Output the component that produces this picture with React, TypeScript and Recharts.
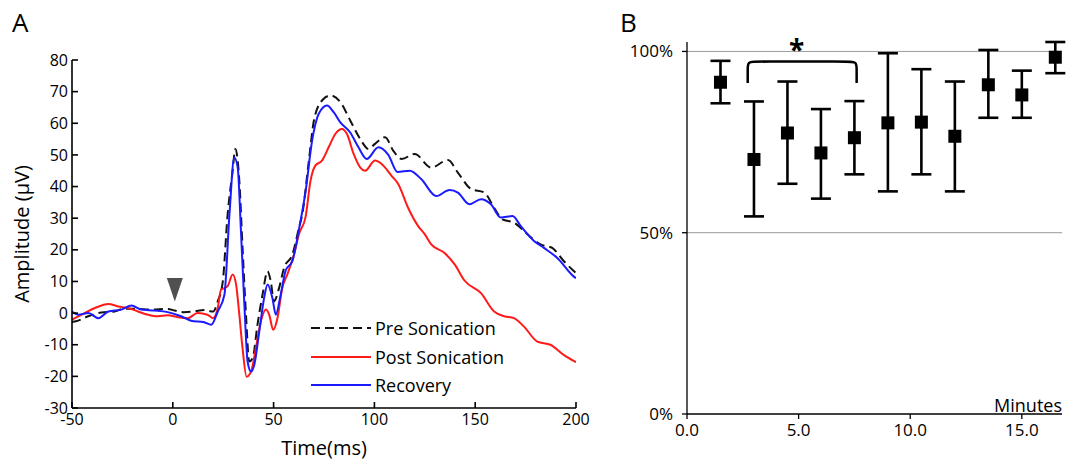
import React from 'react';
import {
  LineChart, Line, XAxis, YAxis, Label, Legend, ReferenceDot, ReferenceLine,
  ComposedChart, Scatter, ErrorBar,
} from 'recharts';

const FONT = '"Open Sans", "DejaVu Sans", sans-serif';

// ---------- Panel A: evoked potentials ----------
const preT = [-50,-48,-42,-35.5,-29,-24,-19,-11,-2.5,1,5.5,10.5,15.5,20,22.3,24.8,27.2,29.7,31,33,34.6,36.3,37.9,39.6,42,44.5,47,48.6,50.2,52.7,55.2,59.3,62.6,64.2,67.5,70,74,78.2,83.1,88,93,97,100.3,105.3,109.4,113.5,120,128.2,136.5,141.4,148,154.5,159.4,163.5,169.2,175.9,182.4,188.2,194,200];
const preV = [-2.8,-2.6,-1.0,0.2,0.5,1.4,1.4,1.1,1.3,0.8,0.3,0.5,1.0,0.5,3.7,10,31.2,45,51.9,41.8,20.6,-0.5,-15.3,-14.3,-3.7,5.8,13.2,10,3.7,7.9,14.3,18.5,27,31.2,48.2,60.9,67.2,68.8,66.7,60.9,55,51.9,53.5,55.6,51.3,48.7,50.3,46,48.4,44.4,39.2,38.1,33.3,29.6,28.6,24.9,21.7,20.6,16.4,12.6];

const postT = [-50,-45.2,-38.6,-32,-27.1,-22.2,-17.2,-12.3,-7.4,-2.5,2.5,7.4,12.3,17.2,19.9,22.3,23.9,25.6,27.2,29.7,31.4,33,34.6,36.6,38.8,41.2,43.7,46.2,47.8,49.8,51.9,54.3,56.8,60.1,62.6,65.9,68.3,70.7,74,77.3,80.6,83.9,86.4,89.7,93,95.4,100.3,103.6,108.5,111.8,116.7,121.7,125,128.2,134.8,139.8,144.7,152.9,159.4,164.4,169.2,174.1,180.8,187.3,193.9,200];
const postV = [-2.1,-0.5,1.6,2.9,2.1,1.6,0.5,-0.5,-1.0,-0.7,-1.3,-1.6,0,-0.5,-1.6,1.6,7.4,7.9,8.5,12.2,9,-0.5,-11.1,-20.1,-18.5,-11.1,-2.6,1.1,-0.5,-5.3,-1.6,7.9,12.2,18.5,25,30.5,41.8,46.6,48.2,52.4,56.6,58.2,56.6,50.3,46,45,48.2,47.1,43.4,40.8,33.3,27.5,24.9,21.7,19,15.4,10.3,6.3,0.5,-1.0,-1.6,-4.2,-9.0,-10,-13.2,-15.5];

const recT = [-50,-46.8,-41.9,-36.9,-32,-25.5,-20.5,-15.6,-9,-2.5,4.1,9,15.6,19,22.3,25.6,28.1,30.5,32.2,33.8,35.5,37.1,38.8,40.4,42.9,45.3,47,49.4,51.1,53.5,56,59.3,62.6,65.9,69.1,72.4,76.5,79.8,83.1,88,92.1,96.2,102,106.9,111.5,117.6,123.3,130.7,137.3,141.4,147.1,152.9,157.8,162.7,168.5,172.6,179.2,184.1,190.6,198.8,200];
const recV = [0.5,-0.5,0,-1.6,0.5,1.1,2.4,1.1,0.8,0.3,-1,-2.4,-2.9,-3.7,0.5,5.8,31.2,49.2,46,26,2.7,-15.3,-18.5,-16.4,-5.8,4.8,9,4.8,-0.5,5.8,13.5,16.4,26.5,38.6,54.5,63,65.6,63.5,60.3,57.1,52.4,48.7,52.4,50,44.6,45,42.3,37,38.9,38.1,34.4,36,34.4,30.2,30.7,27.5,22.8,20.6,17.5,11.6,11];

const xTicksA = [-50, 0, 50, 100, 150, 200];
const yTicksA = [-30, -20, -10, 0, 10, 20, 30, 40, 50, 60, 70, 80];
const stimulusTime = 1;
const stimulusLevel = 7.4;

const seriesNames = ['Pre Sonication', 'Post Sonication', 'Recovery'];
const seriesColors = ['#111111', '#ff1a1a', '#1a1aff'];
const seriesDash = ['9 5', undefined, undefined];

// ---------- Panel B: normalized amplitude ----------
const minutes = [1.5, 3, 4.5, 6, 7.5, 9, 10.5, 12, 13.5, 15, 16.5];
const meanPct = [91.5, 70.2, 77.5, 72.0, 76.2, 80.3, 80.5, 76.6, 90.8, 88.0, 98.4];
const upperPct = [97.4, 86.2, 91.7, 84.1, 86.3, 99.5, 95.1, 91.7, 100.4, 94.7, 102.6];
const lowerPct = [85.7, 54.5, 63.5, 59.4, 66.1, 61.4, 66.1, 61.4, 81.7, 81.7, 94.0];
const xTicksB = [0, 5, 10, 15];
const yTicksB = [0, 50, 100];
const bracketX = [2.72, 2.72, 2.72, 2.72, 3.1, 7.2, 7.6, 7.6, 7.6, 7.6];
const bracketY = [91.3, 93, 95, 97.2, 97.2, 97.2, 97.2, 95, 93, 91.3];
const starX = 4.91;
const starY = 97.6;

const mk = (ts: number[], vs: number[]) => ts.map((t, i) => ({ t, v: vs[i] }));
const seriesData = [mk(preT, preV), mk(postT, postV), mk(recT, recV)];

const scatterData = minutes.map((x, i) => ({
  x,
  y: meanPct[i],
  err: [meanPct[i] - lowerPct[i], upperPct[i] - meanPct[i]],
}));
const bracketData = bracketX.map((x, i) => ({ x, y: bracketY[i] }));

const tickStyleA = { fill: '#000', fontSize: 16, fontFamily: FONT };
const tickStyleB = { fill: '#000', fontSize: 17, fontFamily: FONT };

const LegendContent = () => (
  <div style={{ fontFamily: FONT, fontSize: 18, color: '#000' }}>
    {seriesNames.map((n, i) => (
      <div key={n} style={{ display: 'flex', alignItems: 'center', height: 28.5 }}>
        <svg width={60} height={8} style={{ display: 'block' }}>
          <line x1={0} y1={4} x2={60} y2={4} stroke={seriesColors[i]} strokeWidth={2.2} strokeDasharray={seriesDash[i]} />
        </svg>
        <span style={{ marginLeft: 4, lineHeight: '20px' }}>{n}</span>
      </div>
    ))}
  </div>
);

const Triangle = (props: any) => {
  const { cx, cy } = props;
  if (cx == null || cy == null) return null;
  return (
    <polygon
      points={`${cx - 8},${cy - 11.7} ${cx + 8},${cy - 11.7} ${cx},${cy + 11.7}`}
      fill="#505050"
    />
  );
};

const StarShape = (props: any) => {
  const { cx, cy } = props;
  if (cx == null || cy == null) return null;
  return (
    <text x={cx} y={cy} textAnchor="middle" fontSize={28} fontWeight="bold" fontFamily={FONT} fill="#000">*</text>
  );
};

const MinutesShape = (props: any) => {
  const { cx, cy } = props;
  if (cx == null || cy == null) return null;
  return (
    <text x={cx} y={cy - 2} textAnchor="end" fontSize={18} fontFamily={FONT} fill="#000">Minutes</text>
  );
};

const Square = (props: any) => {
  const { cx, cy } = props;
  if (cx == null || cy == null) return null;
  return <rect x={cx - 6.5} y={cy - 6.5} width={13} height={13} fill="#000" />;
};

export default function App() {
  return (
    <div style={{ position: 'absolute', left: 0, top: 0, width: 1067, height: 462, background: '#fff', overflow: 'hidden' }}>
      <div style={{ position: 'absolute', left: 12, top: 4, fontFamily: FONT, fontSize: 26, color: '#000' }}>A</div>
      <div style={{ position: 'absolute', left: 620, top: 4, fontFamily: FONT, fontSize: 26, color: '#000' }}>B</div>

      <div style={{ position: 'absolute', left: 0, top: 0 }}>
        <LineChart width={600} height={462} margin={{ top: 60, right: 24, bottom: 0, left: 0 }}>
          <XAxis
            type="number" dataKey="t" domain={[-50, 200]} ticks={xTicksA} allowDataOverflow
            height={54} axisLine={{ stroke: '#000', strokeWidth: 1.6 }} tickLine={{ stroke: '#000', strokeWidth: 1.6 }}
            tickSize={-6} tickMargin={12} tick={tickStyleA} interval={0}
          >
            <Label value="Time(ms)" position="insideBottom" offset={7} style={{ fontSize: 20, fontFamily: FONT, fill: '#000' }} />
          </XAxis>
          <YAxis
            type="number" domain={[-30, 80]} ticks={yTicksA} allowDataOverflow width={72}
            axisLine={{ stroke: '#000', strokeWidth: 1.6 }} tickLine={{ stroke: '#000', strokeWidth: 1.6 }}
            tickSize={-6} tickMargin={10} tick={tickStyleA} interval={0}
          >
            <Label value="Amplitude (μV)" angle={-90} position="center" dx={-14} style={{ fontSize: 20, fontFamily: FONT, fill: '#000', textAnchor: 'middle' }} />
          </YAxis>
          {seriesData.map((d, i) => (
            <Line
              key={seriesNames[i]} data={d} dataKey="v" name={seriesNames[i]} type="monotone"
              stroke={seriesColors[i]} strokeWidth={2} strokeDasharray={seriesDash[i]}
              dot={false} activeDot={false} isAnimationActive={false}
            />
          ))}
          <ReferenceDot x={stimulusTime} y={stimulusLevel} r={0} shape={Triangle} />
          <Legend
            layout="vertical" align="center" verticalAlign="middle"
            content={LegendContent}
            wrapperStyle={{ left: 311, top: 314, width: 260, height: 90 }}
          />
        </LineChart>
      </div>

      <div style={{ position: 'absolute', left: 600, top: 0 }}>
        <ComposedChart width={467} height={462} margin={{ top: 42, right: 5, bottom: 18, left: 0 }}>
          <XAxis
            type="number" dataKey="x" domain={[0, 16.8]} ticks={xTicksB} allowDataOverflow height={30}
            axisLine={{ stroke: '#000', strokeWidth: 1.3 }} tickLine={{ stroke: '#000', strokeWidth: 1.3 }}
            tickSize={5} tickMargin={5} tick={tickStyleB} interval={0}
            tickFormatter={(v: number) => v.toFixed(1)}
          />
          <YAxis
            type="number" domain={[0, 102.6]} ticks={yTicksB} allowDataOverflow width={87}
            axisLine={{ stroke: '#000', strokeWidth: 1.3 }} tickLine={{ stroke: '#000', strokeWidth: 1.3 }}
            tickSize={5} tickMargin={9} tick={tickStyleB} interval={0}
            tickFormatter={(v: number) => `${v}%`}
          />
          <ReferenceLine y={50} stroke="#9a9a9a" strokeWidth={1} />
          <ReferenceLine y={100} stroke="#9a9a9a" strokeWidth={1} />
          <Line
            data={bracketData} dataKey="y" type="basis" stroke="#000" strokeWidth={2.5}
            dot={false} activeDot={false} isAnimationActive={false} legendType="none"
          />
          <Scatter data={scatterData} dataKey="y" shape={Square} isAnimationActive={false}>
            <ErrorBar dataKey="err" direction="y" width={10} strokeWidth={2.6} stroke="#000" isAnimationActive={false} />
          </Scatter>
          <ReferenceDot x={starX} y={starY} r={0} shape={StarShape} />
          <ReferenceDot x={16.8} y={0} r={0} shape={MinutesShape} />
        </ComposedChart>
      </div>
    </div>
  );
}
